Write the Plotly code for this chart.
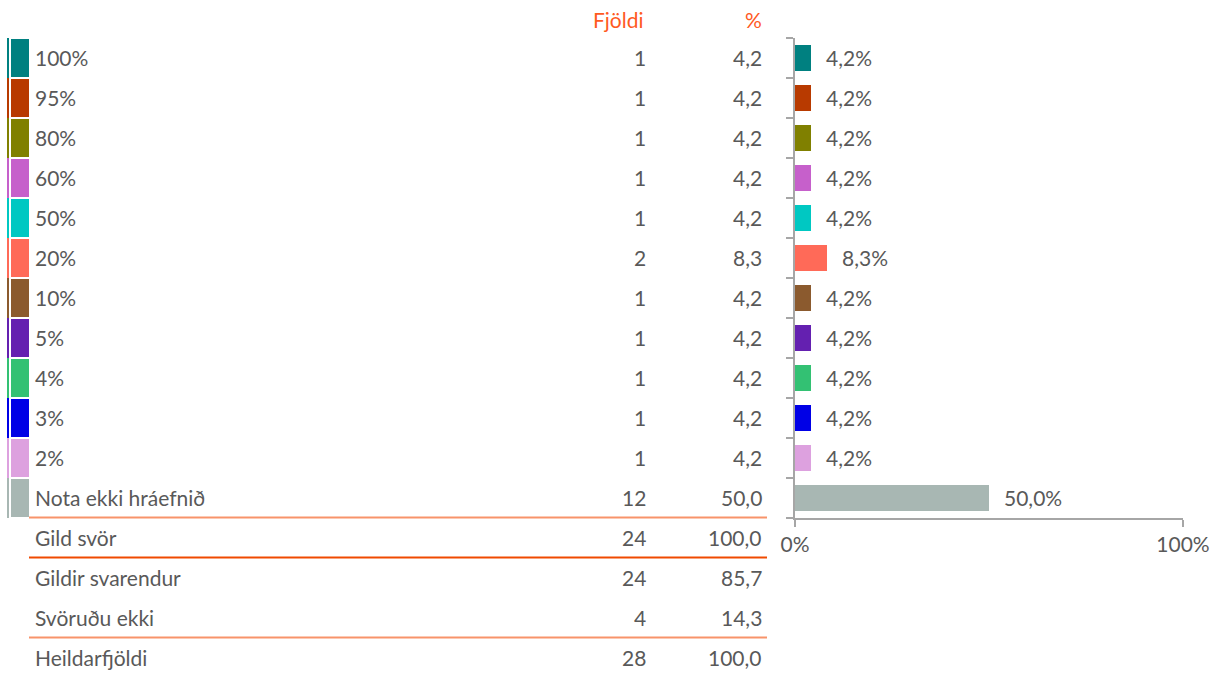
import plotly.graph_objects as go

# Survey answers: share of raw material used
categories = ["100%", "95%", "80%", "60%", "50%", "20%", "10%", "5%", "4%", "3%", "2%",
              "Nota ekki hráefnið"]
counts = [1, 1, 1, 1, 1, 2, 1, 1, 1, 1, 1, 12]
percents = [4.2, 4.2, 4.2, 4.2, 4.2, 8.3, 4.2, 4.2, 4.2, 4.2, 4.2, 50.0]
colors = ["#008080", "#B83A00", "#808000", "#C660CB", "#00C8C2", "#FF6A58",
          "#8B5A2E", "#6420B0", "#33C173", "#0000E6", "#DDA1DF", "#A8B7B3"]

summary_labels = ["Gild svör", "Gildir svarendur", "Svöruðu ekki", "Heildarfjöldi"]
summary_counts = [24, 24, 4, 28]
summary_pcts = [100.0, 85.7, 14.3, 100.0]

header_labels = ["Fjöldi", "%"]

W, H = 1213, 674
ROW0 = 57.5      # pixel centre of first row
ROW_H = 40.0     # pixel height of each row
TEXT = "#595959"
FONT = "Lato"
FS = 21
ORANGE = "#FF5A1F"
LIGHT_ORANGE = "#F8936A"
DARK_ORANGE = "#F04A00"
AXIS_GREY = "#A6A6A6"


def fmt(v):
    return f"{v:.1f}".replace(".", ",")


n = len(categories)
rows = list(range(n))
all_rows = list(range(n + len(summary_labels)))

fig = go.Figure()

# thin coloured edge line left of each swatch
fig.add_trace(go.Bar(
    y=rows, x=[1.3] * n, base=[7.5] * n, orientation="h",
    marker=dict(color=colors, line=dict(width=0)), width=1.0,
    xaxis="x3", yaxis="y", hoverinfo="skip", showlegend=False,
))
# colour swatches
fig.add_trace(go.Bar(
    y=rows, x=[18] * n, base=[11] * n, orientation="h",
    marker=dict(color=colors, line=dict(width=0)), width=0.95,
    xaxis="x3", yaxis="y", hoverinfo="skip", showlegend=False,
))

# percentage bars
fig.add_trace(go.Bar(
    y=rows, x=percents, orientation="h",
    marker=dict(color=colors, line=dict(width=0)), width=0.65,
    xaxis="x2", yaxis="y2", hoverinfo="skip", showlegend=False,
))

annotations = []
label_font = dict(family=FONT, size=FS, color=TEXT)

# bar value labels
for i, p in enumerate(percents):
    annotations.append(dict(
        x=p, y=i, xref="x2", yref="y2", text=fmt(p) + "%",
        xanchor="left", yanchor="middle", xshift=13, showarrow=False,
        font=label_font,
    ))

# table rows
table_labels = categories + summary_labels
table_counts = counts + summary_counts
table_pcts = percents + summary_pcts
for i in all_rows:
    annotations.append(dict(x=33, y=i, xref="x3", yref="y", text=table_labels[i],
                            xanchor="left", yanchor="middle", showarrow=False,
                            font=label_font))
    annotations.append(dict(x=648, y=i, xref="x3", yref="y", text=str(table_counts[i]),
                            xanchor="right", yanchor="middle", showarrow=False,
                            font=label_font))
    annotations.append(dict(x=764, y=i, xref="x3", yref="y", text=fmt(table_pcts[i]),
                            xanchor="right", yanchor="middle", showarrow=False,
                            font=label_font))

# column headers
for xpos, txt in zip([646, 764], header_labels):
    annotations.append(dict(x=xpos, y=-0.95, xref="x3", yref="y", text=txt,
                            xanchor="right", yanchor="middle", showarrow=False,
                            font=dict(family=FONT, size=FS, color=ORANGE)))

# separator lines in the table
shapes = []
for boundary, col in [(n - 0.5, LIGHT_ORANGE), (n + 0.5, DARK_ORANGE), (n + 2.5, LIGHT_ORANGE)]:
    shapes.append(dict(type="line", xref="x3", yref="y", x0=29, x1=767,
                       y0=boundary, y1=boundary, line=dict(color=col, width=2)))

y_top = ROW0 - ROW_H * 0.5
y_bot = ROW0 + ROW_H * (n - 0.5)

fig.update_layout(
    width=W, height=H,
    margin=dict(l=0, r=0, t=0, b=0, autoexpand=False),
    paper_bgcolor="white", plot_bgcolor="rgba(0,0,0,0)",
    bargap=0, barmode="overlay",
    annotations=annotations, shapes=shapes,
    xaxis3=dict(domain=[0, 1], range=[0, W], visible=False, anchor="y"),
    yaxis=dict(domain=[0, 1],
               range=[(H - ROW0) / ROW_H, -ROW0 / ROW_H],
               visible=False, anchor="x3"),
    xaxis2=dict(domain=[795 / W, 1183 / W], range=[0, 100], anchor="y2",
                showline=True, linecolor=AXIS_GREY, linewidth=2,
                ticks="outside", ticklen=7, tickwidth=2, tickcolor=AXIS_GREY,
                tickvals=[0, 100], ticktext=["0%", "100%"],
                tickfont=dict(family=FONT, size=FS, color=TEXT),
                showgrid=False, zeroline=False, fixedrange=True, automargin=False),
    yaxis2=dict(domain=[(H - y_bot) / H, (H - y_top) / H],
                range=[n - 0.5, -0.5], anchor="x2",
                showline=True, linecolor=AXIS_GREY, linewidth=2,
                ticks="outside", ticklen=7, tickwidth=2, tickcolor=AXIS_GREY,
                tickvals=[i - 0.5 for i in range(n + 1)],
                showticklabels=False, showgrid=False, zeroline=False, fixedrange=True,
                automargin=False),
)

fig.write_html("out.html", config=dict(displayModeBar=False))
